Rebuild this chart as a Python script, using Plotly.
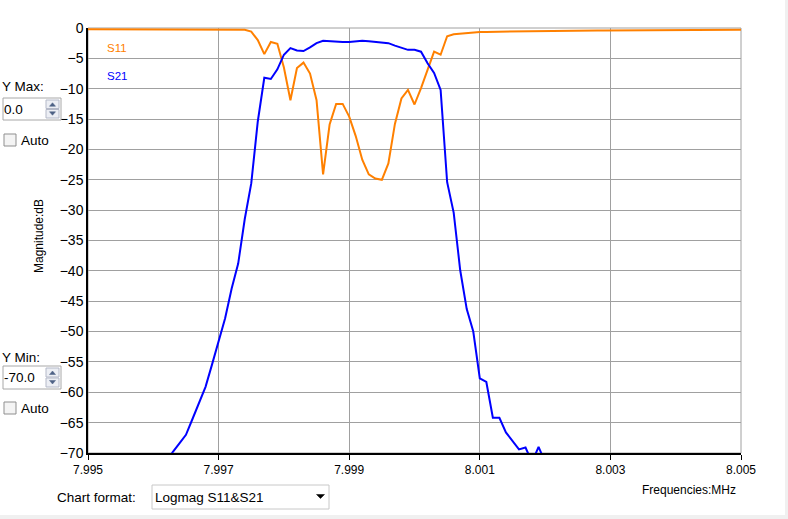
import numpy as np
import plotly.graph_objects as go

# ---- sweep parameters ----
FREQ_START = 7.995
FREQ_STOP = 8.005
N_POINTS = 101
freqs = np.round(np.linspace(FREQ_START, FREQ_STOP, N_POINTS), 5)

# ---- S11 (dB) ----
s11_db = [
    -0.20, -0.20, -0.20, -0.20, -0.20, -0.20, -0.20, -0.20, -0.20, -0.20,
    -0.20, -0.20, -0.20, -0.20, -0.20, -0.21, -0.21, -0.21, -0.21, -0.22,
    -0.22, -0.22, -0.23, -0.25, -0.30, -0.60, -2.00, -4.30, -2.30, -2.60,
    -6.50, -11.90, -6.60, -5.70, -7.50, -11.90, -24.10, -15.90, -12.50, -12.50,
    -14.60, -17.80, -21.70, -24.10, -24.80, -25.00, -22.30, -15.80, -11.60, -10.20,
    -12.60, -9.90, -6.80, -3.90, -4.40, -1.35, -1.02, -0.90, -0.80, -0.72,
    -0.66, -0.64, -0.62, -0.60, -0.58, -0.56, -0.54, -0.52, -0.50, -0.49,
    -0.48, -0.47, -0.46, -0.45, -0.44, -0.43, -0.42, -0.41, -0.40, -0.40,
    -0.39, -0.39, -0.38, -0.38, -0.37, -0.37, -0.36, -0.36, -0.35, -0.35,
    -0.34, -0.34, -0.33, -0.33, -0.32, -0.32, -0.31, -0.31, -0.30, -0.30,
    -0.30,
]

# ---- S21 (dB); None = below the displayed range ----
s21_db = [
    None, None, None, None, None, None, None, None, None, None,
    None, None, -71.5, -69.8, -68.4, -67.0, -64.4, -61.7, -59.1, -55.4,
    -51.8, -47.8, -42.9, -38.8, -31.5, -25.6, -15.4, -8.2, -8.4, -6.8,
    -4.4, -3.3, -3.7, -3.8, -3.2, -2.5, -2.1, -2.2, -2.3, -2.3,
    -2.3, -2.2, -2.1, -2.2, -2.3, -2.3, -2.5, -2.9, -3.3, -3.6,
    -3.6, -3.9, -5.8, -7.4, -10.2, -25.4, -30.4, -39.9, -46.3, -50.0,
    -57.7, -58.3, -64.2, -64.2, -66.6, -68.0, -69.4, -69.1, -71.5, -69.0,
    -71.5, None, None, None, None, None, None, None, None, None,
    None, None, None, None, None, None, None, None, None, None,
    None, None, None, None, None, None, None, None, None, None,
    None,
]

x_tickvals = [7.995, 7.997, 7.999, 8.001, 8.003, 8.005]
x_ticktext = ["7.995", "7.997", "7.999", "8.001", "8.003", "8.005"]

ORANGE = "#ff8000"
BLUE = "#0000ff"
GRID = "#a0a0a0"
FONT = "Liberation Sans, Arial, sans-serif"

W, H = 788, 519
L, R, T, B = 88, 47, 28, 66
PW, PH = W - L - R, H - T - B


def X(px):
    return (px - L) / PW


def Y(py):
    return (H - B - py) / PH


fig = go.Figure()
fig.add_trace(go.Scatter(x=freqs, y=s11_db, mode="lines", name="S11",
                         line=dict(color=ORANGE, width=2), connectgaps=False))
fig.add_trace(go.Scatter(x=freqs, y=s21_db, mode="lines", name="S21",
                         line=dict(color=BLUE, width=2), connectgaps=False))

fig.update_layout(
    width=W, height=H,
    margin=dict(l=L, r=R, t=T, b=B, pad=0),
    paper_bgcolor="white", plot_bgcolor="white",
    showlegend=False,
    font=dict(family=FONT, color="black"),
    xaxis=dict(range=[FREQ_START, FREQ_STOP], tickvals=x_tickvals, ticktext=x_ticktext,
               showgrid=True, gridcolor=GRID, gridwidth=1, zeroline=False,
               showline=True, linecolor="black", linewidth=1.5,
               ticks="outside", ticklen=5, tickcolor="black", tickwidth=1,
               tickfont=dict(size=12, family=FONT, color="black")),
    yaxis=dict(range=[-70, 0], tick0=0, dtick=5,
               showgrid=True, gridcolor=GRID, gridwidth=1, zeroline=False,
               showline=True, linecolor="black", linewidth=1.5,
               ticks="", tickfont=dict(size=14, family=FONT, color="black")),
)

shapes = []
# plot frame (top/right grey)
shapes.append(dict(type="rect", xref="paper", yref="paper", x0=0, x1=1, y0=0, y1=1,
                   line=dict(color=GRID, width=1), layer="below"))
# window edge strips
shapes.append(dict(type="rect", xref="paper", yref="paper", x0=X(785), x1=X(790), y0=Y(-2), y1=Y(521),
                   line=dict(width=0), fillcolor="#f0f0f0"))
shapes.append(dict(type="rect", xref="paper", yref="paper", x0=X(-2), x1=X(790), y0=Y(515), y1=Y(521),
                   line=dict(width=0), fillcolor="#f0f0f0"))


def textbox(y0, y1):
    shapes.append(dict(type="rect", xref="paper", yref="paper", x0=X(3), x1=X(61), y0=Y(y1), y1=Y(y0),
                       line=dict(color="#a8a8a8", width=1), fillcolor="white"))
    mid = (y0 + y1) / 2
    for (a, b, up) in [(y0 + 2, mid - 0.5, True), (mid + 0.5, y1 - 2, False)]:
        shapes.append(dict(type="rect", xref="paper", yref="paper", x0=X(46), x1=X(59), y0=Y(b), y1=Y(a),
                           line=dict(color="#b4b9c8", width=1), fillcolor="#eceef4"))
        cy = (a + b) / 2
        if up:
            p = f"M {X(49.5)},{Y(cy + 2)} L {X(55.5)},{Y(cy + 2)} L {X(52.5)},{Y(cy - 1.5)} Z"
        else:
            p = f"M {X(49.5)},{Y(cy - 2)} L {X(55.5)},{Y(cy - 2)} L {X(52.5)},{Y(cy + 1.5)} Z"
        shapes.append(dict(type="path", xref="paper", yref="paper", path=p,
                           line=dict(color="#4d6185", width=0.5), fillcolor="#4d6185"))


def checkbox(y0):
    shapes.append(dict(type="rect", xref="paper", yref="paper", x0=X(4), x1=X(16), y0=Y(y0 + 12), y1=Y(y0),
                       line=dict(color="#8f8f8f", width=1), fillcolor="#f4f4f4"))


textbox(98, 120)
checkbox(134)
textbox(366, 389)
checkbox(402)

# combo box
shapes.append(dict(type="rect", xref="paper", yref="paper", x0=X(152), x1=X(329), y0=Y(509), y1=Y(485),
                   line=dict(color="#c8c8c8", width=1), fillcolor="white"))
shapes.append(dict(type="path", xref="paper", yref="paper",
                   path=f"M {X(316.5)},{Y(494.5)} L {X(324.5)},{Y(494.5)} L {X(320.5)},{Y(498.5)} Z",
                   line=dict(color="black", width=0.5), fillcolor="black"))

fig.update_layout(shapes=shapes)


def label(text, px, py, size=13.5, color="black", xanchor="left", angle=0):
    fig.add_annotation(text=text, xref="paper", yref="paper", x=X(px), y=Y(py),
                       xanchor=xanchor, yanchor="middle", showarrow=False,
                       textangle=angle, borderpad=0, borderwidth=0,
                       font=dict(size=size, color=color, family=FONT))


label("S11", 107, 47.5, size=11.5, color=ORANGE)
label("S21", 107, 75.5, size=11.5, color=BLUE)
label("Magnitude:dB", 39, 236, size=12, xanchor="center", angle=-90)
label("Y Max:", 2, 87)
label("0.0", 4, 109.5)
label("Auto", 21, 140)
label("Y Min:", 2, 357)
label("-70.0", 4, 377.5)
label("Auto", 21, 408)
label("Chart format:", 57, 497)
label("Logmag S11&S21", 155, 497)
label("Frequencies:MHz", 642, 490, size=12)

fig.write_html("out.html", config={"displayModeBar": False},
               post_script="document.body.style.margin='0px';document.body.style.overflow='hidden';")
